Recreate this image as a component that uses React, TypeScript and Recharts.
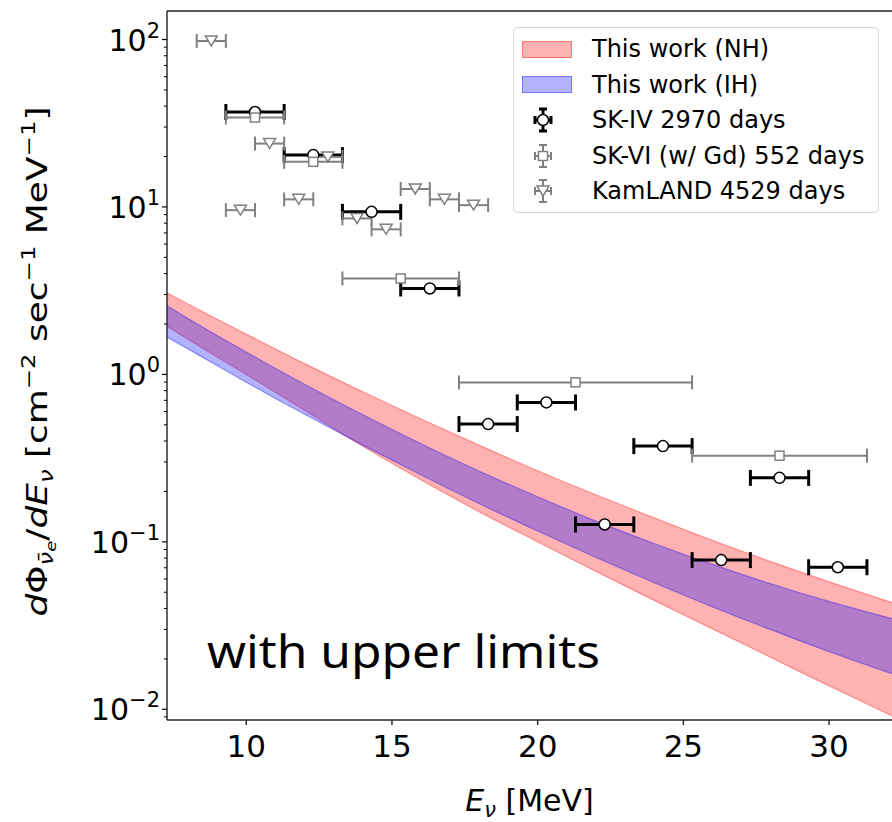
import React from 'react';
import { ComposedChart, Area, Scatter, ErrorBar, XAxis, YAxis, ReferenceLine, Label } from 'recharts';

const FONT = '"DejaVu Sans", sans-serif';

// theory bands (flux in cm^-2 s^-1 MeV^-1)
const bandEnergy = [7.28, 8, 10, 12, 14, 16, 18, 20, 22, 24, 26, 28, 30, 32.16];
const nhUpper = [3.07, 2.63, 1.74, 1.16, 0.787, 0.541, 0.377, 0.266, 0.191, 0.139, 0.102, 0.0762, 0.0577, 0.0434];
const nhLower = [1.94, 1.62, 1.0, 0.61, 0.372, 0.234, 0.151, 0.1, 0.0665, 0.0447, 0.0302, 0.0204, 0.0138, 0.00912];
const ihUpper = [2.57, 2.16, 1.36, 0.873, 0.574, 0.385, 0.264, 0.186, 0.133, 0.0977, 0.0733, 0.0562, 0.0441, 0.0348];
const ihLower = [1.67, 1.42, 0.897, 0.578, 0.378, 0.251, 0.169, 0.116, 0.0807, 0.057, 0.0409, 0.0299, 0.0221, 0.0163];

// SK-IV 2970 days
const skIvEnergy = [10.3, 12.3, 14.3, 16.3, 18.3, 20.3, 22.3, 24.3, 26.3, 28.3, 30.3];
const skIvFlux = [36.9, 20.4, 9.35, 3.26, 0.505, 0.68, 0.127, 0.373, 0.0778, 0.241, 0.0705];
const skIvHalfBin = [1, 1, 1, 1, 1, 1, 1, 1, 1, 1, 1];

// SK-VI (w/ Gd) 552 days
const skViEnergy = [10.3, 12.3, 15.3, 21.3, 28.3];
const skViFlux = [34.2, 18.6, 3.74, 0.896, 0.327];
const skViHalfBin = [1, 1, 2, 4, 3];

// KamLAND 4529 days
const kamEnergy = [8.8, 9.8, 10.8, 11.8, 12.8, 13.8, 14.8, 15.8, 16.8, 17.8];
const kamFlux = [98, 9.57, 23.9, 11.1, 19.9, 8.54, 7.35, 12.8, 11.1, 10.25];
const kamHalfBin = [0.5, 0.5, 0.5, 0.5, 0.5, 0.5, 0.5, 0.5, 0.5, 0.5];

const xDomain = [7.28, 32.16];
const yDomain = [0.00863, 148];
const xTicks = [10, 15, 20, 25, 30];
const yDecades = [0.001, 0.01, 0.1, 1, 10, 100];
const yTicks = yDecades
  .flatMap((d) => [1, 2, 3, 4, 5, 6, 7, 8, 9].map((m) => m * d))
  .filter((v) => v >= yDomain[0] && v <= yDomain[1]);

const bandRows = bandEnergy.map((x, i) => ({
  x,
  nh: [nhLower[i], nhUpper[i]],
  ih: [ihLower[i], ihUpper[i]],
}));
const toPoints = (xs: number[], ys: number[], err: number[]) =>
  xs.map((x, i) => ({ x, y: ys[i], xerr: err[i] }));
const skIv = toPoints(skIvEnergy, skIvFlux, skIvHalfBin);
const skVi = toPoints(skViEnergy, skViFlux, skViHalfBin);
const kam = toPoints(kamEnergy, kamFlux, kamHalfBin);

const GRAY = '#808080';

const XTick = ({ x, y, payload }: any) => (
  <text x={x} y={y + 30} textAnchor="middle" fontSize={31} fontFamily={FONT} fill="#000">
    {payload.value}
  </text>
);

const YTick = ({ x, y, payload }: any) => {
  const lg = Math.log10(payload.value);
  const exp = Math.round(lg);
  if (Math.abs(lg - exp) > 1e-6) {
    return <line x1={x} x2={x - 3} y1={y} y2={y} stroke="#000" strokeWidth={1} />;
  }
  return (
    <g>
      <line x1={x} x2={x - 5} y1={y} y2={y} stroke="#000" strokeWidth={1.2} />
      <text x={x - 7} y={y + 11} textAnchor="end" fontSize={30} fontFamily={FONT} fill="#000">
        10
        <tspan dy={-13} fontSize={21}>{exp < 0 ? `\u2212${-exp}` : `${exp}`}</tspan>
      </text>
    </g>
  );
};

const XTitle = ({ viewBox }: any) => (
  <text x={viewBox.x + viewBox.width / 2} y={viewBox.y + 91} textAnchor="middle" fontSize={30} fontFamily={FONT} fill="#000">
    <tspan fontStyle="italic">E</tspan>
    <tspan dy={6} fontSize={21} fontStyle="italic">ν</tspan>
    <tspan dy={-6}>{' [MeV]'}</tspan>
  </text>
);

const YTitle = ({ viewBox }: any) => {
  const cy = viewBox.y + viewBox.height / 2;
  return (
    <text
      transform={`translate(47, ${cy - 4}) rotate(-90)`}
      textAnchor="middle"
      fontSize={28}
      fontFamily={FONT}
      fill="#000"
      textLength={510}
      lengthAdjust="spacingAndGlyphs"
    >
      <tspan fontStyle="italic">d</tspan>
      <tspan>Φ</tspan>
      <tspan dy={6} fontSize={19} fontStyle="italic">ν̄</tspan>
      <tspan dy={3} fontSize={14} fontStyle="italic">e</tspan>
      <tspan dy={-9}>/</tspan>
      <tspan fontStyle="italic">dE</tspan>
      <tspan dy={6} fontSize={19} fontStyle="italic">ν</tspan>
      <tspan dy={-6}>{' [cm'}</tspan>
      <tspan dy={-12} fontSize={19}>{'\u22122'}</tspan>
      <tspan dy={12}>{' sec'}</tspan>
      <tspan dy={-12} fontSize={19}>{'\u22121'}</tspan>
      <tspan dy={12}>{' MeV'}</tspan>
      <tspan dy={-12} fontSize={19}>{'\u22121'}</tspan>
      <tspan dy={12}>{']'}</tspan>
    </text>
  );
};

const CircleMark = ({ cx, cy }: any) => (
  <circle cx={cx} cy={cy} r={5.5} fill="#fff" stroke="#000" strokeWidth={1.5} />
);
const SquareMark = ({ cx, cy }: any) => (
  <rect x={cx - 4.5} y={cy - 4.5} width={9} height={9} fill="#fff" stroke={GRAY} strokeWidth={1.5} />
);
const TriMark = ({ cx, cy }: any) => (
  <polygon
    points={`${cx - 6},${cy - 5} ${cx + 6},${cy - 5} ${cx},${cy + 5}`}
    fill="#fff"
    stroke={GRAY}
    strokeWidth={1.5}
  />
);

const ErrIcon = ({ color, width, mark }: { color: string; width: number; mark: React.ReactNode }) => (
  <svg width={50} height={30} style={{ display: 'block' }}>
    <g stroke={color} strokeWidth={width}>
      <line x1={13} x2={29} y1={15} y2={15} />
      <line x1={13} x2={13} y1={11} y2={19} />
      <line x1={29} x2={29} y1={11} y2={19} />
      <line x1={21} x2={21} y1={4} y2={26} />
      <line x1={17} x2={25} y1={4} y2={4} />
      <line x1={17} x2={25} y1={26} y2={26} />
    </g>
    {mark}
  </svg>
);

const patch = (rgb: string) => (
  <div style={{ width: 50, height: 17, background: `rgba(${rgb},0.3)`, border: `1px solid rgba(${rgb},0.35)`, boxSizing: 'border-box' }} />
);

const legendRows = [
  { label: 'This work (NH)', icon: patch('255,0,0') },
  { label: 'This work (IH)', icon: patch('0,0,255') },
  { label: 'SK-IV 2970 days', icon: <ErrIcon color="#000" width={3} mark={<CircleMark cx={21} cy={15} />} /> },
  { label: 'SK-VI (w/ Gd) 552 days', icon: <ErrIcon color={GRAY} width={2} mark={<SquareMark cx={21} cy={15} />} /> },
  { label: 'KamLAND 4529 days', icon: <ErrIcon color={GRAY} width={2} mark={<TriMark cx={21} cy={15} />} /> },
];

const LegendBox = () => (
  <div
    style={{
      position: 'absolute',
      left: 513,
      top: 27,
      width: 366,
      height: 186,
      boxSizing: 'border-box',
      border: '1.5px solid #d6d6d6',
      borderRadius: 5,
      background: 'rgba(255,255,255,0.85)',
      fontFamily: FONT,
      fontSize: 24,
      color: '#000',
    }}
  >
    {legendRows.map((r, i) => (
      <div
        key={r.label}
        style={{ position: 'absolute', left: 8, top: 21 + i * 35.6 - 15, height: 30, display: 'flex', alignItems: 'center' }}
      >
        <div style={{ width: 50 }}>{r.icon}</div>
        <span style={{ marginLeft: 20, whiteSpace: 'nowrap' }}>{r.label}</span>
      </div>
    ))}
  </div>
);

export default function App() {
  return (
    <div style={{ position: 'absolute', left: 0, top: 0, width: 892, height: 822, background: '#fff' }}>
      <ComposedChart width={892} height={822} data={bandRows} margin={{ top: 11, right: 0, bottom: 0, left: 0 }}>
        <XAxis
          type="number"
          dataKey="x"
          domain={xDomain}
          allowDataOverflow
          ticks={xTicks}
          interval={0}
          height={102}
          tickSize={5}
          tickMargin={2}
          stroke="#222"
          strokeWidth={1.4}
          tick={<XTick />}
          label={<Label content={<XTitle />} />}
        />
        <YAxis
          type="number"
          scale="log"
          domain={yDomain}
          allowDataOverflow
          ticks={yTicks}
          interval={0}
          width={167}
          tickSize={0}
          tickMargin={0}
          tickLine={false}
          stroke="#222"
          strokeWidth={1.4}
          tick={<YTick />}
          label={<Label content={<YTitle />} />}
        />
        <ReferenceLine y={yDomain[1]} stroke="#222" strokeWidth={1.4} />
        <Area
          type="monotone"
          dataKey="nh"
          fill="#ff0000"
          fillOpacity={0.3}
          stroke="#ff0000"
          strokeOpacity={0.35}
          strokeWidth={1.2}
          isAnimationActive={false}
        />
        <Area
          type="monotone"
          dataKey="ih"
          fill="#0000ff"
          fillOpacity={0.3}
          stroke="#0000ff"
          strokeOpacity={0.35}
          strokeWidth={1.2}
          isAnimationActive={false}
        />
        <Scatter data={skIv} dataKey="y" shape={<CircleMark />} isAnimationActive={false}>
          <ErrorBar dataKey="xerr" direction="x" width={8} strokeWidth={3} stroke="#000" />
        </Scatter>
        <Scatter data={skVi} dataKey="y" shape={<SquareMark />} isAnimationActive={false}>
          <ErrorBar dataKey="xerr" direction="x" width={7} strokeWidth={2} stroke={GRAY} />
        </Scatter>
        <Scatter data={kam} dataKey="y" shape={<TriMark />} isAnimationActive={false}>
          <ErrorBar dataKey="xerr" direction="x" width={7} strokeWidth={2} stroke={GRAY} />
        </Scatter>
      </ComposedChart>
      <LegendBox />
      <svg width={892} height={822} style={{ position: 'absolute', left: 0, top: 0, pointerEvents: 'none' }}>
        <text x={207} y={668} fontSize={46} fontFamily='"Noto Sans", sans-serif' fill="#000" textLength={393} lengthAdjust="spacingAndGlyphs">
          with upper limits
        </text>
      </svg>
    </div>
  );
}
